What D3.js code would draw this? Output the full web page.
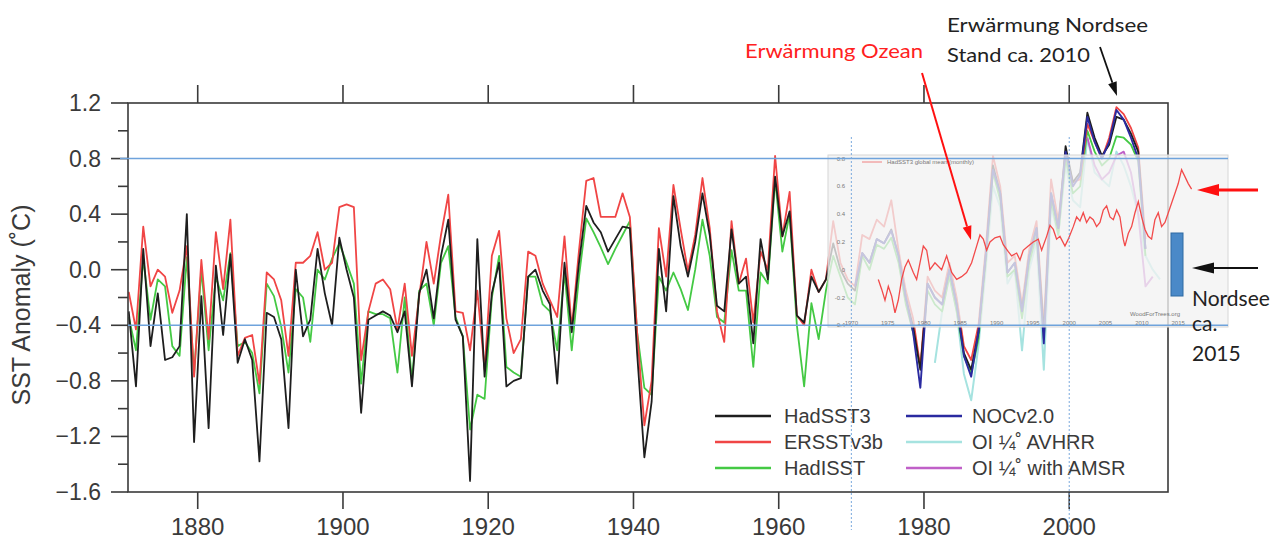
<!DOCTYPE html>
<html><head><meta charset="utf-8">
<script src="https://cdn.jsdelivr.net/npm/d3@7"></script>
<style>body{margin:0;background:#fff}svg{display:block}</style>
</head><body>
<svg id="c" width="1276" height="539"></svg>
<script>
// ---------------- DATA ----------------
const yearStart = 1870;
const hadsst3 = [-0.30,-0.84,0.15,-0.55,-0.17,-0.65,-0.63,-0.55,0.40,-1.24,
 -0.19,-1.14,0.03,-0.47,0.11,-0.67,-0.50,-0.65,-1.38,-0.31,
 -0.34,-0.50,-1.14,0.00,-0.48,-0.36,0.15,-0.17,-0.40,0.23,
 0.00,-0.20,-1.03,-0.36,-0.33,-0.30,-0.33,-0.45,-0.30,-0.84,
 -0.17,0.00,-0.35,0.10,0.36,-0.36,-0.48,-1.52,0.22,-0.77,
 -0.17,0.05,-0.84,-0.80,-0.78,-0.05,0.00,-0.15,-0.25,-0.82,
 0.05,-0.45,0.05,0.46,0.34,0.27,0.13,0.22,0.31,0.30,
 -0.60,-1.35,-0.95,0.15,-0.30,0.53,0.17,-0.05,0.20,0.55,
 0.25,-0.26,-0.30,0.29,-0.10,-0.05,-0.53,0.22,-0.07,0.67,
 0.24,0.42,-0.33,-0.38,-0.05,-0.16,-0.07,0.19,0.00,-0.10,
 -0.15,0.12,0.05,0.22,0.19,0.29,0.10,-0.20,-0.41,-0.72,
 -0.10,-0.20,-0.25,0.00,-0.25,-0.60,-0.72,-0.45,0.10,0.75,
 0.55,-0.02,0.05,-0.29,0.10,0.30,-0.45,0.55,0.30,0.89,
 0.63,0.70,1.13,0.95,0.82,0.90,1.10,1.08,0.98,0.85,0.15];
const ersst = [-0.16,-0.43,0.31,-0.12,0.00,-0.05,-0.31,-0.15,0.17,-0.77,
 0.07,-0.50,0.27,-0.14,0.36,-0.62,-0.49,-0.47,-0.82,-0.02,
 -0.07,-0.22,-0.62,0.05,0.05,0.10,0.27,0.00,0.05,0.45,
 0.47,0.45,-0.65,-0.30,-0.10,-0.07,-0.14,-0.43,-0.10,-0.62,
 -0.19,0.20,-0.10,0.25,0.54,-0.30,-0.31,-0.58,-0.15,-0.72,
 0.10,0.28,-0.35,-0.60,-0.50,0.13,0.10,-0.10,-0.22,-0.34,
 0.24,-0.42,0.14,0.64,0.66,0.38,0.38,0.38,0.55,0.38,
 -0.45,-1.12,-0.80,0.30,-0.05,0.61,0.29,-0.01,0.25,0.66,
 0.30,-0.30,-0.52,0.35,-0.10,0.08,-0.38,0.13,0.00,0.82,
 0.24,0.56,-0.33,-0.40,0.00,-0.16,-0.07,0.35,0.05,-0.07,
 -0.12,0.25,0.22,0.36,0.31,0.50,0.14,-0.15,-0.35,-0.70,
 -0.05,-0.15,-0.20,0.05,-0.20,-0.55,-0.65,-0.40,0.15,0.82,
 0.60,0.05,0.10,-0.25,0.15,0.35,-0.40,0.65,0.35,0.85,
 0.63,0.65,1.05,0.92,0.80,0.95,1.17,1.12,1.02,0.88,0.22];
const hadisst = [-0.34,-0.58,0.08,-0.36,-0.07,-0.12,-0.55,-0.62,0.09,-0.75,
 0.00,-0.58,-0.05,-0.22,0.12,-0.55,-0.52,-0.60,-0.89,-0.10,
 -0.19,-0.41,-0.74,-0.14,-0.20,-0.52,0.00,-0.07,0.08,0.19,
 0.05,-0.10,-0.82,-0.30,-0.32,-0.32,-0.35,-0.74,-0.20,-0.80,
 -0.15,-0.10,-0.40,0.05,0.17,-0.34,-0.48,-1.15,-0.90,-0.93,
 -0.20,0.10,-0.70,-0.74,-0.77,-0.05,-0.05,-0.25,-0.30,-0.58,
 -0.02,-0.58,-0.05,0.37,0.27,0.16,0.04,0.15,0.25,0.35,
 -0.45,-0.85,-0.90,-0.05,-0.15,-0.02,-0.14,-0.29,0.00,0.36,
 0.10,-0.34,-0.38,0.14,-0.15,-0.15,-0.70,-0.02,-0.10,0.65,
 0.13,0.40,-0.40,-0.84,-0.24,-0.50,-0.15,0.10,-0.05,-0.20,
 -0.25,0.10,0.00,0.18,0.15,0.23,0.05,-0.25,-0.45,-0.70,
 -0.15,-0.25,-0.30,-0.05,-0.30,-0.62,-0.75,-0.50,0.05,0.70,
 0.50,-0.05,0.00,-0.35,0.05,0.25,-0.50,0.50,0.25,0.80,
 0.55,0.60,1.00,0.85,0.75,0.80,0.96,0.95,0.90,0.78,0.10];
const nocStart = 1970;
const nocv2 = [-0.12,0.12,0.05,0.22,0.19,0.28,0.10,-0.20,-0.45,-0.85,
 -0.10,-0.20,-0.25,0.00,-0.25,-0.62,-0.77,-0.45,0.10,0.72,
 0.55,-0.02,0.05,-0.30,0.10,0.30,-0.53,0.55,0.30,0.85,
 0.60,0.68,1.10,0.92,0.80,0.92,1.15,1.08,0.95,0.80,0.15];
const avhrrStart = 1981;
const oiAvhrr = [-0.67,-0.30,-0.05,-0.30,-0.75,-0.94,-0.55,0.00,0.60,0.45,
 -0.10,0.00,-0.58,0.00,0.20,-0.72,0.45,0.25,0.75,0.50,
 0.45,0.95,0.70,0.65,0.60,0.85,0.75,0.60,0.40,0.10,0.00,-0.07];
const amsrStart = 2002;
const oiAmsr = [0.95,0.75,0.65,0.70,0.82,0.85,0.70,0.40,-0.12,-0.05];
// global monthly-type series of the overlaid inset (time in years, anomaly)
const insetYears = [1973.71,1974.17,1974.63,1975.09,1975.55,1976.01,1976.46,1976.92,1977.38,1977.84,
 1978.53,1978.99,1979.45,1979.91,1980.37,1980.82,1981.51,1982.43,1983.12,1983.81,
 1984.50,1985.18,1985.87,1986.56,1987.25,1987.71,1988.17,1988.63,1989.09,1989.77,
 1990.46,1990.92,1991.61,1992.07,1992.76,1993.22,1993.67,1994.36,1995.05,1995.74,
 1996.20,1996.89,1997.35,1997.81,1998.26,1998.72,1999.41,1999.87,2000.56,2001.02,
 2001.48,2001.93,2002.39,2002.85,2003.31,2003.77,2004.23,2004.69,2005.15,2005.61,
 2006.07,2006.53,2006.98,2007.44,2007.67,2008.13,2008.59,2009.05,2009.51,2009.97,
 2010.43,2010.88,2011.34,2011.80,2012.26,2012.72,2013.18,2013.64,2014.10,2014.56,
 2015.01,2015.47,2015.93,2016.39,2016.85];
const insetVals = [-0.07,-0.14,-0.22,-0.12,-0.19,-0.31,-0.22,-0.07,0.02,0.07,
 -0.02,-0.07,0.05,0.17,0.14,0.00,0.05,0.00,0.10,-0.02,
 -0.07,-0.05,-0.02,0.05,0.17,0.25,0.22,0.14,0.20,0.23,
 0.24,0.18,0.13,0.10,0.12,0.07,0.14,0.17,0.20,0.22,
 0.14,0.24,0.32,0.29,0.22,0.24,0.17,0.22,0.31,0.38,
 0.35,0.41,0.34,0.38,0.36,0.31,0.34,0.43,0.46,0.38,
 0.36,0.43,0.38,0.22,0.17,0.26,0.31,0.41,0.49,0.38,
 0.29,0.24,0.22,0.36,0.41,0.31,0.34,0.41,0.48,0.55,
 0.62,0.72,0.67,0.62,0.58];
const yTicks = [1.2,0.8,0.4,0.0,-0.4,-0.8,-1.2,-1.6];
const xTicks = [1880,1900,1920,1940,1960,1980,2000];
const insetXTicks = [1970,1975,1980,1985,1990,1995,2000,2005,2010,2015];
const insetYTicks = [0.8,0.6,0.4,0.2,0,-0.2,-0.4];
const legendNames = ["HadSST3","ERSSTv3b","HadISST","NOCv2.0","OI ¼˚ AVHRR","OI ¼˚ with AMSR"];

// ---------------- DRAW ----------------
const svg = d3.select('#c');
const x = d3.scaleLinear().domain([1870.4, 2013.6]).range([128, 1168]);
const y = d3.scaleLinear().domain([-1.6, 1.2]).range([492, 103]);
const AX = '#3a3a3a';
const font = 'Liberation Sans, Arial, sans-serif';

function series(start, vals){ return vals.map((v,i)=>({yr:start+i, v})); }
const line = d3.line().x(d=>x(d.yr+0.5)).y(d=>y(d.v));

svg.append('clipPath').attr('id','pc').append('rect')
  .attr('x',128).attr('y',103).attr('width',1040).attr('height',389);

const plot = svg.append('g').attr('clip-path','url(#pc)');
const lines = [
  {d:series(avhrrStart,oiAvhrr), c:'#a6e3e0', w:2},
  {d:series(yearStart,hadisst), c:'#44c944', w:1.8},
  {d:series(yearStart,ersst), c:'#f04545', w:1.8},
  {d:series(yearStart,hadsst3), c:'#1e1e1e', w:1.8},
  {d:series(nocStart,nocv2), c:'#2a2aa0', w:1.9},
  {d:series(amsrStart,oiAmsr), c:'#c060c8', w:1.9}
];
lines.forEach(s=>plot.append('path').attr('d',line(s.d)).attr('fill','none')
  .attr('stroke',s.c).attr('stroke-width',s.w).attr('stroke-linejoin','round'));

// frame
svg.append('rect').attr('x',128).attr('y',103).attr('width',1040).attr('height',389)
  .attr('fill','none').attr('stroke',AX).attr('stroke-width',1.6);

// y axis ticks
const yMinor = [1.0,0.6,0.2,-0.2,-0.6,-1.0,-1.4];
svg.append('g').selectAll('line').data(yTicks).join('line')
  .attr('x1',111).attr('x2',128).attr('y1',d=>y(d)).attr('y2',d=>y(d))
  .attr('stroke',AX).attr('stroke-width',1.6);
svg.append('g').selectAll('line').data(yMinor).join('line')
  .attr('x1',118).attr('x2',128).attr('y1',d=>y(d)).attr('y2',d=>y(d))
  .attr('stroke',AX).attr('stroke-width',1.6);
svg.append('g').selectAll('text').data(yTicks).join('text')
  .attr('x',101).attr('y',d=>y(d)+8).attr('text-anchor','end')
  .attr('font-family',font).attr('font-size',23).attr('fill',AX)
  .text(d=>d3.format('.1f')(d).replace('-','\u2212'));
// x ticks top & bottom
svg.append('g').selectAll('line').data(xTicks).join('line')
  .attr('x1',d=>x(d)).attr('x2',d=>x(d)).attr('y1',85).attr('y2',103)
  .attr('stroke',AX).attr('stroke-width',1.6);
svg.append('g').selectAll('line').data(xTicks).join('line')
  .attr('x1',d=>x(d)).attr('x2',d=>x(d)).attr('y1',492).attr('y2',509)
  .attr('stroke',AX).attr('stroke-width',1.6);
svg.append('g').selectAll('text').data(xTicks).join('text')
  .attr('x',d=>x(d)).attr('y',535).attr('text-anchor','middle')
  .attr('font-family',font).attr('font-size',24).attr('fill',AX)
  .text(d=>d);
svg.append('text').attr('transform','translate(30,305) rotate(-90)')
  .attr('text-anchor','middle').attr('font-family',font).attr('font-size',25)
  .attr('fill',AX).text('SST Anomaly (˚C)');

// legend
const legX = [715, 906], legTX = [784, 972], legY = [416, 442, 468];
const legCols = ['#1e1e1e','#f04545','#44c944','#2a2aa0','#a6e3e0','#c060c8'];
legendNames.forEach((n,i)=>{
  const col = Math.floor(i/3), row = i%3;
  svg.append('line').attr('x1',legX[col]).attr('x2',legX[col]+56)
    .attr('y1',legY[row]).attr('y2',legY[row]).attr('stroke',legCols[i]).attr('stroke-width',2.4);
  svg.append('text').attr('x',legTX[col]).attr('y',legY[row]+7)
    .attr('font-family',font).attr('font-size',20).attr('fill',AX).text(n);
});

// inset overlay
svg.append('rect').attr('x',828).attr('y',155).attr('width',400).attr('height',172)
  .attr('fill','#f2f2f2').attr('fill-opacity',0.78).attr('stroke','#d6d6d6').attr('stroke-width',1);
svg.append('path').attr('d',d3.line().x(d=>x(d[0])).y(d=>y(d[1]))(insetYears.map((t,i)=>[t,insetVals[i]])))
  .attr('fill','none').attr('stroke','#f24a4a').attr('stroke-width',1.3);
svg.append('g').selectAll('text').data(insetYTicks).join('text')
  .attr('x',845).attr('y',d=>y(d)+2).attr('text-anchor','end')
  .attr('font-family',font).attr('font-size',6).attr('fill','#777').text(d=>d);
svg.append('g').selectAll('text').data(insetXTicks).join('text')
  .attr('x',d=>x(d)).attr('y',325).attr('text-anchor','middle')
  .attr('font-family',font).attr('font-size',6).attr('fill','#777').text(d=>d);
svg.append('line').attr('x1',862).attr('x2',882).attr('y1',162).attr('y2',162)
  .attr('stroke','#f08080').attr('stroke-width',1);
svg.append('text').attr('x',887).attr('y',164).attr('font-family',font).attr('font-size',6)
  .attr('fill','#777').text('HadSST3 global mean (monthly)');
svg.append('text').attr('x',1130).attr('y',316).attr('font-family',font).attr('font-size',6)
  .attr('fill','#777').text('WoodForTrees.org');

// reference lines
svg.append('line').attr('x1',120).attr('x2',1228).attr('y1',y(0.8)).attr('y2',y(0.8))
  .attr('stroke','#6fa3dc').attr('stroke-width',1.6);
svg.append('line').attr('x1',128).attr('x2',1228).attr('y1',y(-0.4)).attr('y2',y(-0.4))
  .attr('stroke','#6fa3dc').attr('stroke-width',1.6);
[1970, 2000].forEach(t=>svg.append('line').attr('x1',x(t)).attr('x2',x(t))
  .attr('y1',137).attr('y2',530).attr('stroke','#7aa9dd').attr('stroke-width',1)
  .attr('stroke-dasharray','2,2'));

// annotations
const afont = 'Lato, Carlito, Open Sans, sans-serif';
svg.append('text').attr('x',745).attr('y',58).attr('font-family',afont).attr('font-size',20)
  .attr('fill','#ff2020').attr('textLength',178).attr('lengthAdjust','spacingAndGlyphs').text('Erwärmung Ozean');
svg.append('text').attr('x',947).attr('y',32).attr('font-family',afont).attr('font-size',20)
  .attr('fill','#222').attr('textLength',201).attr('lengthAdjust','spacingAndGlyphs').text('Erwärmung Nordsee');
svg.append('text').attr('x',947).attr('y',62).attr('font-family',afont).attr('font-size',20)
  .attr('fill','#222').attr('textLength',143).attr('lengthAdjust','spacingAndGlyphs').text('Stand ca. 2010');
svg.append('text').attr('x',1192).attr('y',306).attr('font-family',afont).attr('font-size',21)
  .attr('fill','#222').text('Nordsee');
svg.append('text').attr('x',1192).attr('y',331).attr('font-family',afont).attr('font-size',21)
  .attr('fill','#222').text('ca.');
svg.append('text').attr('x',1192).attr('y',361).attr('font-family',afont).attr('font-size',21)
  .attr('fill','#222').text('2015');

function arrow(x1,y1,x2,y2,col,w,hl,hw){
  const a = Math.atan2(y2-y1,x2-x1);
  const bx = x2 - hl*Math.cos(a), by = y2 - hl*Math.sin(a);
  svg.append('line').attr('x1',x1).attr('y1',y1).attr('x2',bx).attr('y2',by)
    .attr('stroke',col).attr('stroke-width',w);
  const px = -Math.sin(a)*hw/2, py = Math.cos(a)*hw/2;
  svg.append('path').attr('d',`M${x2},${y2}L${bx+px},${by+py}L${bx-px},${by-py}Z`).attr('fill',col);
}
arrow(922,73,971,240,'#ff1010',2,14,9);
arrow(1100,47,1117,96,'#111',1.8,14,9);
arrow(1258,190,1197,190,'#ff1010',3,22,12);
arrow(1258,268,1192,268,'#111',2,22,11);
svg.append('rect').attr('x',1171).attr('y',233).attr('width',12).attr('height',63)
  .attr('fill','#4a89c8').attr('stroke','#2e6aa3').attr('stroke-width',1);
</script>
</body></html>
